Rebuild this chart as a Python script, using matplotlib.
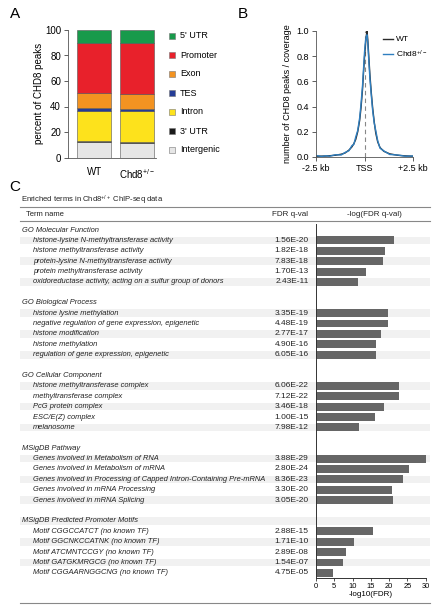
import matplotlib
matplotlib.use("Agg")
import matplotlib.pyplot as plt
from matplotlib.patches import Rectangle
import numpy as np

plt.rcParams['font.family'] = ['Liberation Sans', 'DejaVu Sans']
plt.rcParams['mathtext.fontset'] = 'custom'
plt.rcParams['mathtext.rm'] = 'Liberation Sans'
plt.rcParams['mathtext.it'] = 'Liberation Sans:italic'
plt.rcParams['mathtext.default'] = 'regular'

# ---------------- Panel A data ----------------
genotypes = ["WT", "Chd8$^{+/-}$"]
feature_names = ["Intergenic", "3' UTR", "Intron", "TES", "Exon", "Promoter", "5' UTR"]
feature_colors = ["#e6e6e6", "#1a1a1a", "#fde21c", "#253c96", "#f39321", "#e8212b", "#189a4b"]
pct_wt = [12.2, 0.6, 24.0, 1.9, 12.1, 38.7, 10.5]
pct_chd8 = [11.4, 0.6, 24.3, 1.9, 11.3, 40.0, 10.5]

# ---------------- Panel B data ----------------
pos_kb = [-2.5, -2.2, -2.0, -1.8, -1.5, -1.2, -1.0, -0.8, -0.65, -0.55, -0.45, -0.35,
          -0.25, -0.18, -0.1, -0.05, 0.0, 0.05, 0.1, 0.13, 0.17, 0.22, 0.28, 0.35,
          0.42, 0.5, 0.58, 0.68, 0.8, 1.0, 1.3, 1.7, 2.1, 2.5]
prof_wt = [0.006, 0.007, 0.008, 0.010, 0.014, 0.022, 0.032, 0.055, 0.08, 0.105, 0.14, 0.20,
           0.29, 0.39, 0.54, 0.67, 0.79, 0.89, 0.97, 1.0, 0.93, 0.80, 0.65, 0.51,
           0.39, 0.28, 0.19, 0.12, 0.075, 0.045, 0.025, 0.014, 0.009, 0.006]
prof_chd8 = [0.012, 0.004, 0.010, 0.006, 0.018, 0.016, 0.036, 0.050, 0.09, 0.10, 0.16, 0.21,
             0.31, 0.42, 0.57, 0.70, 0.83, 0.92, 0.96, 0.97, 0.90, 0.77, 0.62, 0.49,
             0.37, 0.27, 0.21, 0.13, 0.07, 0.048, 0.020, 0.016, 0.006, 0.008]
profile_ticks = [-2.5, 0.0, 2.5]
profile_ticklabels = ["-2.5 kb", "TSS", "+2.5 kb"]

# ---------------- Panel C data ----------------
section_names = ["GO Molecular Function", "GO Biological Process", "GO Cellular Component",
                 "MSigDB Pathway", "MSigDB Predicted Promoter Motifs"]
mf_terms = ["histone-lysine N-methyltransferase activity", "histone methyltransferase activity",
            "protein-lysine N-methyltransferase activity", "protein methyltransferase activity",
            "oxidoreductase activity, acting on a sulfur group of donors"]
mf_fdr = ["1.56E-20", "1.82E-18", "7.83E-18", "1.70E-13", "2.43E-11"]
mf_val = [21.3, 19.0, 18.4, 13.7, 11.4]
bp_terms = ["histone lysine methylation", "negative regulation of gene expression, epigenetic",
            "histone modification", "histone methylation", "regulation of gene expression, epigenetic"]
bp_fdr = ["3.35E-19", "4.48E-19", "2.77E-17", "4.90E-16", "6.05E-16"]
bp_val = [19.7, 19.6, 17.7, 16.4, 16.3]
cc_terms = ["histone methyltransferase complex", "methyltransferase complex", "PcG protein complex",
            "ESC/E(Z) complex", "melanosome"]
cc_fdr = ["6.06E-22", "7.12E-22", "3.46E-18", "1.00E-15", "7.98E-12"]
cc_val = [22.8, 22.6, 18.7, 16.1, 11.8]
pw_terms = ["Genes involved in Metabolism of RNA", "Genes involved in Metabolism of mRNA",
            "Genes involved in Processing of Capped Intron-Containing Pre-mRNA",
            "Genes involved in mRNA Processing", "Genes involved in mRNA Splicing"]
pw_fdr = ["3.88E-29", "2.80E-24", "8.36E-23", "3.30E-20", "3.05E-20"]
pw_val = [30.6, 25.3, 23.7, 20.9, 21.0]
mo_terms = ["Motif CGGCCATCT (no known TF)", "Motif GGCNKCCATNK (no known TF)",
            "Motif ATCMNTCCGY (no known TF)", "Motif GATGKMRGCG (no known TF)",
            "Motif CGGAARNGGCNG (no known TF)"]
mo_fdr = ["2.88E-15", "1.71E-10", "2.89E-08", "1.54E-07", "4.75E-05"]
mo_val = [15.6, 10.5, 8.1, 7.3, 4.6]
fdr_ticks = [0, 5, 10, 15, 20, 25, 30]

W, H = 440, 612
fig = plt.figure(figsize=(W / 100, H / 100), dpi=100)

def px_axes(x0, y0, x1, y1):
    return fig.add_axes([x0 / W, 1 - y1 / H, (x1 - x0) / W, (y1 - y0) / H])

# overlay axes in pixel coordinates (for table text, shading, legend A)
axT = fig.add_axes([0, 0, 1, 1], zorder=0)
axT.set_xlim(0, W)
axT.set_ylim(H, 0)
axT.axis('off')

# panel labels
for lab, (x, y) in zip("ABC", [(15, 14), (243, 14), (15, 187)]):
    axT.text(x, y, lab, fontsize=11, ha='center', va='center')

# ---------------- Panel A ----------------
axA = px_axes(68, 30, 156, 157.5)
bottoms = [0.0, 0.0]
for name, col, a, b in zip(feature_names, feature_colors, pct_wt, pct_chd8):
    axA.bar([0, 1], [a, b], bottom=bottoms, width=0.8, color=col,
            edgecolor='#555555', linewidth=0.4, label=name)
    bottoms = [bottoms[0] + a, bottoms[1] + b]
axA.set_xlim(-0.62, 1.45)
axA.set_ylim(0, 100)
axA.set_yticks([0, 20, 40, 60, 80, 100])
axA.set_xticks([0, 1])
axA.set_xticklabels(genotypes)
axA.tick_params(axis='y', labelsize=7, length=3, width=0.6, color='#444444', pad=2)
axA.tick_params(axis='x', labelsize=7, length=0, pad=7)
axA.set_ylabel("percent of CHD8 peaks", fontsize=7, labelpad=1)
for s in ['top', 'right']:
    axA.spines[s].set_visible(False)
for s in ['left', 'bottom']:
    axA.spines[s].set_color('#555555')
    axA.spines[s].set_linewidth(0.6)

# legend A (top to bottom)
for i, (name, col) in enumerate(zip(feature_names[::-1], feature_colors[::-1])):
    y = 36 + i * 19
    axT.add_patch(Rectangle((169, y - 3), 6, 6, facecolor=col, edgecolor='#777777', linewidth=0.4))
    axT.text(180, y, name, fontsize=6.5, va='center', ha='left')

# ---------------- Panel B ----------------
axB = px_axes(316, 31, 413, 157)
axB.axvline(0, color='#888888', linestyle=(0, (4, 3)), linewidth=0.8)
axB.plot(pos_kb, prof_wt, color='#2b2b2b', linewidth=1.0, label='WT')
axB.plot(pos_kb, prof_chd8, color='#2f7fc0', linewidth=1.0, label='Chd8$^{+/-}$')
axB.set_xlim(-2.5, 2.5)
axB.set_ylim(0, 1.0)
axB.set_yticks([0.0, 0.2, 0.4, 0.6, 0.8, 1.0])
axB.set_yticklabels(["0.0", "0.2", "0.4", "0.6", "0.8", "1.0"])
axB.set_xticks(profile_ticks)
axB.set_xticklabels(profile_ticklabels)
axB.tick_params(axis='both', labelsize=6.5, length=3, width=0.6, color='#444444', pad=2)
axB.set_ylabel("number of CHD8 peaks / coverage", fontsize=6.5, labelpad=3)
for s in ['top', 'right']:
    axB.spines[s].set_visible(False)
for s in ['left', 'bottom']:
    axB.spines[s].set_color('#555555')
    axB.spines[s].set_linewidth(0.6)
axB.legend(loc='upper left', bbox_to_anchor=(0.66, 0.99), frameon=False, fontsize=6,
           handlelength=1.2, handletextpad=0.3, labelspacing=0.6, borderaxespad=0)

# ---------------- Panel C ----------------
sections = [
    (section_names[0], mf_terms, mf_fdr, mf_val),
    (section_names[1], bp_terms, bp_fdr, bp_val),
    (section_names[2], cc_terms, cc_fdr, cc_val),
    (section_names[3], pw_terms, pw_fdr, pw_val),
    (section_names[4], mo_terms, mo_fdr, mo_val),
]
# shading pattern per section: header row, then term rows
shade_patterns = [
    [False, True, False, True, False, True],
    [False, True, False, True, False, True],
    [False, True, False, True, False, True],
    [False, True, False, True, False, True],
    [True, False, True, False, True, False],
]

y0, dy = 230.0, 10.39
row_idx = []
row_vals = []
r = 0
txt_kw = dict(fontsize=5.4, va='center', color='#222222')
for (sname, terms, fdrs, vals), shades in zip(sections, shade_patterns):
    y = y0 + r * dy
    if shades[0]:
        axT.add_patch(Rectangle((20, y - 0.37 * dy), 410, 0.74 * dy, facecolor='#f1f1f1',
                                edgecolor='none'))
    axT.text(22, y, sname, style='italic', ha='left', **txt_kw)
    r += 1
    for t, f, v, sh in zip(terms, fdrs, vals, shades[1:]):
        y = y0 + r * dy
        if sh:
            axT.add_patch(Rectangle((20, y - 0.37 * dy), 410, 0.74 * dy, facecolor='#f1f1f1',
                                    edgecolor='none'))
        axT.text(33, y, t, style='italic', ha='left', **txt_kw)
        axT.text(308.5, y, f, fontsize=6.0, va='center', ha='right', color='#222222')
        row_idx.append(r)
        row_vals.append(v)
        r += 1
    r += 1  # blank row

# title, header and rules
axT.text(21, 200.5, "Enriched terms in Chd8$^{+/+}$ ChIP-seq data", fontsize=5.5,
         va='center', ha='left', color='#222222')
axT.plot([20, 430], [207, 207], color='#888888', linewidth=0.8)
axT.plot([20, 430], [221, 221], color='#888888', linewidth=0.8)
axT.plot([20, 430], [603, 603], color='#888888', linewidth=0.8)
axT.text(26, 214.5, "Term name", fontsize=5.5, va='center', ha='left', color='#222222')
axT.text(290, 214.5, "FDR q-val", fontsize=5.8, va='center', ha='center', color='#222222')
axT.text(374.5, 214.5, "-log(FDR q-val)", fontsize=5.8, va='center', ha='center', color='#222222')

# bar axes
top_px, bot_px = 224, 578
axC = px_axes(316, top_px, 425.7, bot_px)
axC.set_zorder(1)
axC.patch.set_alpha(0)
axC.barh(row_idx, row_vals, height=0.76, color='#666666')
axC.set_xlim(0, 30)
axC.set_ylim((bot_px - y0) / dy, (top_px - y0) / dy)
axC.set_yticks([])
axC.set_xticks(fdr_ticks)
axC.tick_params(axis='x', labelsize=5.4, length=2, width=0.6, pad=1.5, color='#333333')
axC.set_xlabel("-log10(FDR)", fontsize=5.8, labelpad=1)
for s in ['top', 'right']:
    axC.spines[s].set_visible(False)
for s in ['left', 'bottom']:
    axC.spines[s].set_color('#333333')
    axC.spines[s].set_linewidth(0.7)

fig.savefig("out.png", dpi=100)
